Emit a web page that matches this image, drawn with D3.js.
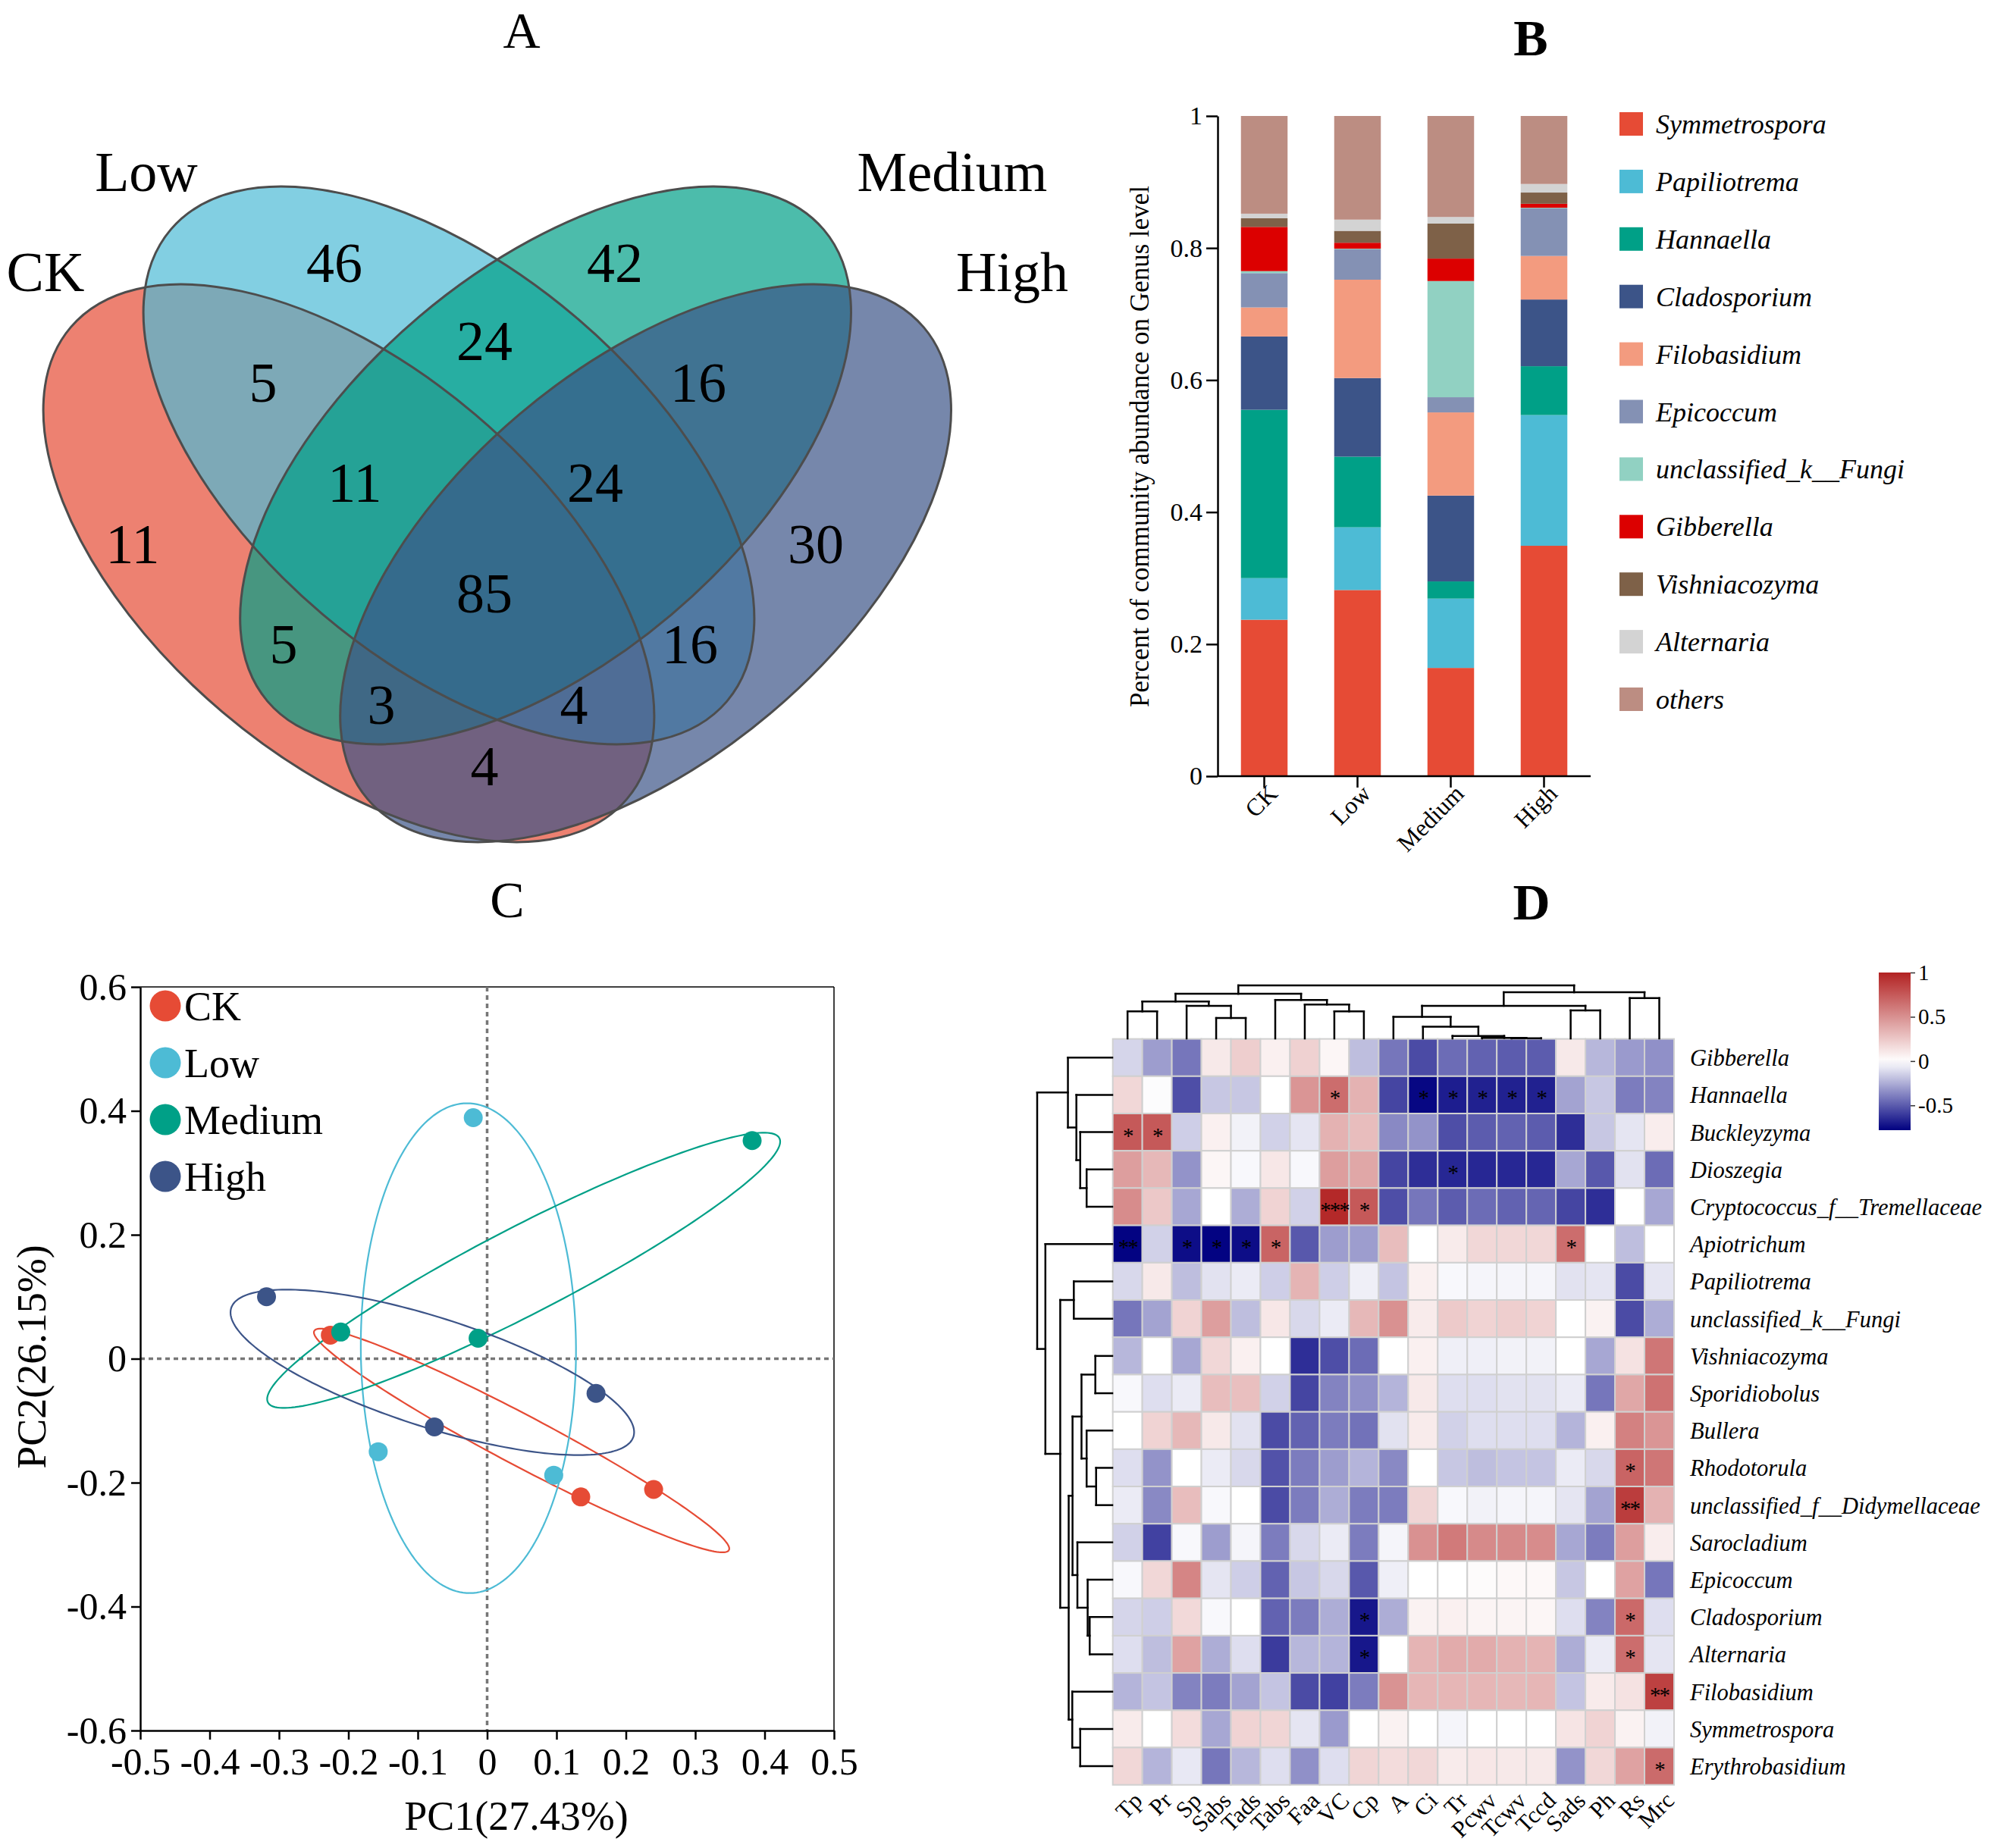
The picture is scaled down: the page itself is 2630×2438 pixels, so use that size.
<!DOCTYPE html>
<html>
<head>
<meta charset="utf-8">
<script src="https://cdnjs.cloudflare.com/ajax/libs/d3/7.8.5/d3.min.js"></script>
<style>
  body { margin: 0; background: #fff; }
  svg { display: block; }
  text { font-family: "Liberation Serif", "Times New Roman", serif; fill: #000; }
</style>
</head>
<body>
<svg id="fig" width="2630" height="2438"></svg>
<script>
// ---------------- data ----------------
var groups = ["CK", "Low", "Medium", "High"];
var groupColors = ["#E64B35", "#4DBBD5", "#00A087", "#3C5488"];

// A: Venn region counts
var vennRegions = ["CK", "Low", "Medium", "High", "CK&Low", "Low&Medium", "Medium&High",
  "CK&Low&Medium", "Low&Medium&High", "all", "CK&Medium", "Low&High",
  "CK&Medium&High", "CK&Low&High", "CK&High"];
var vennCounts = [11, 46, 42, 30, 5, 24, 16, 11, 24, 85, 5, 16, 3, 4, 4];

// B: genus composition (stacked, bottom to top)
var genera = ["Symmetrospora", "Papiliotrema", "Hannaella", "Cladosporium", "Filobasidium",
  "Epicoccum", "unclassified_k__Fungi", "Gibberella", "Vishniacozyma", "Alternaria", "others"];
var genusColors = ["#E64B35", "#4DBBD5", "#00A087", "#3C5488", "#F39B7F",
  "#8491B4", "#91D1C2", "#DC0000", "#7E6148", "#D3D3D3", "#BC8D82"];
var abundCK     = [0.237, 0.063, 0.255, 0.111, 0.044, 0.052, 0.003, 0.067, 0.013, 0.007, 0.148];
var abundLow    = [0.282, 0.095, 0.107, 0.119, 0.149, 0.046, 0.001, 0.009, 0.018, 0.017, 0.157];
var abundMedium = [0.164, 0.105, 0.026, 0.130, 0.126, 0.023, 0.176, 0.034, 0.053, 0.010, 0.153];
var abundHigh   = [0.349, 0.198, 0.074, 0.101, 0.066, 0.072, 0.001, 0.006, 0.017, 0.013, 0.103];
var barTicks = [0, 0.2, 0.4, 0.6, 0.8, 1];

// C: PCA sample scores
var pcaGroup = ["CK", "CK", "CK", "Low", "Low", "Low", "Medium", "Medium", "Medium", "High", "High", "High"];
var pcaX = [-0.226, 0.135, 0.240, -0.020, -0.157, 0.096, 0.382, -0.211, -0.013, -0.318, 0.157, -0.076];
var pcaY = [0.038, -0.223, -0.211, 0.389, -0.150, -0.188, 0.352, 0.043, 0.033, 0.100, -0.056, -0.110];
var pcaXTicks = [-0.5, -0.4, -0.3, -0.2, -0.1, 0, 0.1, 0.2, 0.3, 0.4, 0.5];
var pcaYTicks = [-0.6, -0.4, -0.2, 0, 0.2, 0.4, 0.6];

// D: correlation heatmap
var heatRows = ["Gibberella", "Hannaella", "Buckleyzyma", "Dioszegia", "Cryptococcus_f__Tremellaceae",
  "Apiotrichum", "Papiliotrema", "unclassified_k__Fungi", "Vishniacozyma", "Sporidiobolus", "Bullera",
  "Rhodotorula", "unclassified_f__Didymellaceae", "Sarocladium", "Epicoccum", "Cladosporium",
  "Alternaria", "Filobasidium", "Symmetrospora", "Erythrobasidium"];
var heatCols = ["Tp", "Pr", "Sp", "Sabs", "Tads", "Tabs", "Faa", "VC", "Cp", "A", "Ci", "Tr",
  "Pcwv", "Tcwv", "Tccd", "Sads", "Ph", "Rs", "Mrc"];
var heatValues = [
  [-0.13,-0.30,-0.42, 0.10, 0.22, 0.07, 0.21, 0.04,-0.20,-0.42,-0.55,-0.45,-0.48,-0.50,-0.50, 0.10,-0.22,-0.31,-0.34],
  [ 0.18,-0.01,-0.54,-0.17,-0.17, 0.00, 0.48, 0.66, 0.35,-0.57,-0.76,-0.69,-0.68,-0.68,-0.68,-0.28,-0.17,-0.40,-0.38],
  [ 0.75, 0.75,-0.15, 0.07,-0.04,-0.14,-0.08, 0.35, 0.30,-0.36,-0.33,-0.54,-0.50,-0.48,-0.50,-0.64,-0.17,-0.08, 0.08],
  [ 0.44, 0.32,-0.33, 0.04,-0.02, 0.11,-0.02, 0.44, 0.40,-0.57,-0.64,-0.66,-0.66,-0.66,-0.66,-0.27,-0.51,-0.09,-0.45],
  [ 0.52, 0.25,-0.27, 0.00,-0.25, 0.20,-0.14, 0.97, 0.75,-0.54,-0.42,-0.50,-0.45,-0.48,-0.47,-0.57,-0.64, 0.00,-0.27],
  [-0.77,-0.14,-0.74,-0.77,-0.74, 0.70,-0.51,-0.30,-0.30, 0.30, 0.00, 0.09, 0.18, 0.18, 0.18, 0.66, 0.00,-0.20, 0.00],
  [-0.12, 0.10,-0.20,-0.09,-0.06,-0.15, 0.34,-0.15,-0.05,-0.18, 0.07,-0.02,-0.03,-0.03,-0.03,-0.09,-0.08,-0.55,-0.08],
  [-0.42,-0.28, 0.20, 0.44,-0.20, 0.11,-0.12,-0.06, 0.32, 0.50, 0.09, 0.24, 0.20, 0.22, 0.20, 0.00, 0.06,-0.55,-0.25],
  [-0.22, 0.00,-0.27, 0.18, 0.07, 0.00,-0.64,-0.54,-0.45, 0.00, 0.07,-0.05,-0.05,-0.04,-0.04, 0.00,-0.27, 0.13, 0.62],
  [-0.02,-0.10,-0.06, 0.30, 0.29,-0.14,-0.57,-0.38,-0.34,-0.23, 0.10,-0.10,-0.10,-0.09,-0.09,-0.06,-0.42, 0.40, 0.64],
  [ 0.00, 0.20, 0.32, 0.10,-0.09,-0.55,-0.48,-0.40,-0.43,-0.09, 0.09,-0.14,-0.10,-0.10,-0.10,-0.23, 0.07, 0.57, 0.48],
  [-0.10,-0.33, 0.00,-0.06,-0.12,-0.53,-0.40,-0.30,-0.23,-0.36, 0.00,-0.17,-0.20,-0.18,-0.18,-0.06,-0.12, 0.70, 0.62],
  [-0.06,-0.36, 0.30,-0.02, 0.00,-0.55,-0.40,-0.25,-0.40,-0.40, 0.19,-0.02,-0.04,-0.03,-0.03,-0.08,-0.28, 0.88, 0.35],
  [-0.14,-0.58,-0.02,-0.30,-0.03,-0.40,-0.12,-0.06,-0.40,-0.03, 0.50, 0.60, 0.53, 0.53, 0.52,-0.27,-0.40, 0.44, 0.08],
  [-0.02, 0.18, 0.55,-0.08,-0.15,-0.48,-0.17,-0.12,-0.51,-0.05, 0.00, 0.00, 0.02, 0.03, 0.03,-0.17, 0.00, 0.42,-0.42],
  [-0.13,-0.15, 0.17,-0.02, 0.00,-0.48,-0.40,-0.25,-0.71,-0.25, 0.06, 0.07, 0.05, 0.05, 0.04,-0.10,-0.38, 0.68,-0.10],
  [-0.10,-0.20, 0.42,-0.25,-0.10,-0.60,-0.22,-0.23,-0.71, 0.00, 0.34, 0.38, 0.38, 0.35, 0.34,-0.25,-0.06, 0.66,-0.08],
  [-0.23,-0.18,-0.38,-0.40,-0.28,-0.18,-0.55,-0.58,-0.40, 0.49, 0.33, 0.33, 0.33, 0.32, 0.33,-0.18, 0.09, 0.13, 0.86],
  [ 0.09, 0.00, 0.16,-0.27, 0.20, 0.19,-0.08,-0.31, 0.00, 0.06, 0.00,-0.03, 0.00, 0.00, 0.00, 0.12, 0.20, 0.06,-0.04],
  [ 0.18,-0.23,-0.07,-0.42,-0.22,-0.10,-0.34,-0.10, 0.19, 0.16, 0.18, 0.09, 0.11, 0.10, 0.10,-0.33, 0.18, 0.42, 0.67]
];
// significance marks: [row, column, mark]
var heatStars = [
  ["Hannaella", "VC", "*"], ["Hannaella", "Ci", "*"], ["Hannaella", "Tr", "*"], ["Hannaella", "Pcwv", "*"],
  ["Hannaella", "Tcwv", "*"], ["Hannaella", "Tccd", "*"],
  ["Buckleyzyma", "Tp", "*"], ["Buckleyzyma", "Pr", "*"],
  ["Dioszegia", "Tr", "*"],
  ["Cryptococcus_f__Tremellaceae", "VC", "***"], ["Cryptococcus_f__Tremellaceae", "Cp", "*"],
  ["Apiotrichum", "Tp", "**"], ["Apiotrichum", "Sp", "*"], ["Apiotrichum", "Sabs", "*"],
  ["Apiotrichum", "Tads", "*"], ["Apiotrichum", "Tabs", "*"], ["Apiotrichum", "Sads", "*"],
  ["Rhodotorula", "Rs", "*"], ["unclassified_f__Didymellaceae", "Rs", "**"],
  ["Cladosporium", "Cp", "*"], ["Cladosporium", "Rs", "*"],
  ["Alternaria", "Cp", "*"], ["Alternaria", "Rs", "*"],
  ["Filobasidium", "Mrc", "**"], ["Erythrobasidium", "Mrc", "*"]
];
var legendTicks = [1, 0.5, 0, -0.5];
// clustering trees (merge heights)
var colTree = {h: 208, c: [
  {h: 175, c: [
    {h: 145, c: [{h: 106, c: ["Tp", "Pr"]}, {h: 128, c: ["Sp", {h: 80, c: ["Sabs", "Tads"]}]}]},
    {h: 151, c: ["Tabs", {h: 133, c: ["Faa", {h: 106, c: ["VC", "Cp"]}]}]}]},
  {h: 181, c: [
    {h: 128, c: [
      {h: 85, c: ["A", {h: 46, c: ["Ci", {h: 10, c: ["Tr", {h: 2, c: ["Pcwv", {h: 1, c: ["Tcwv", "Tccd"]}]}]}]}]},
      {h: 110, c: ["Sads", "Ph"]}]},
    {h: 158, c: ["Rs", "Mrc"]}]}]};
var rowTree = {h: 293, c: [
  {h: 173, c: ["Gibberella", {h: 140, c: ["Hannaella", {h: 125, c: ["Buckleyzyma",
    {h: 100, c: ["Dioszegia", "Cryptococcus_f__Tremellaceae"]}]}]}]},
  {h: 261, c: ["Apiotrichum", {h: 203, c: [
    {h: 150, c: ["Papiliotrema", "unclassified_k__Fungi"]},
    {h: 170, c: [
      {h: 155, c: [
        {h: 120, c: [{h: 66, c: ["Vishniacozyma", "Sporidiobolus"]},
                     {h: 100, c: ["Bullera", {h: 63, c: ["Rhodotorula", "unclassified_f__Didymellaceae"]}]}]},
        {h: 136, c: ["Sarocladium", {h: 96, c: ["Epicoccum", {h: 88, c: ["Cladosporium", "Alternaria"]}]}]}]},
      {h: 156, c: ["Filobasidium", {h: 125, c: ["Symmetrospora", "Erythrobasidium"]}]}]}]}]}]};

// ---------------- drawing ----------------
var svg = d3.select("#fig");
svg.append("rect").attr("width", 2630).attr("height", 2438).attr("fill", "#fff");

function panelTitle(t, x, y, bold) {
  svg.append("text").attr("x", x).attr("y", y).attr("text-anchor", "middle")
    .style("font-size", "68px").style("font-weight", bold ? "bold" : "normal").text(t);
}

// ===== A: Venn =====
panelTitle("A", 688, 63, false);
var venn = svg.append("g");
// ellipse layout (pixels)
var vennShapes = [
  {cx: 460, cy: 743, ang: 40.3}, {cx: 592, cy: 614, ang: 40.3},
  {cx: 719.6, cy: 614, ang: -40.3}, {cx: 851.6, cy: 743, ang: -40.3}];
venn.selectAll("ellipse.fill").data(vennShapes).enter().append("ellipse")
  .attr("class", "fill")
  .attr("cx", d => d.cx).attr("cy", d => d.cy).attr("rx", 481).attr("ry", 257.5)
  .attr("transform", d => "rotate(" + d.ang + " " + d.cx + " " + d.cy + ")")
  .attr("fill", (d, i) => groupColors[i]).attr("fill-opacity", 0.7);
venn.selectAll("ellipse.line").data(vennShapes).enter().append("ellipse")
  .attr("class", "line")
  .attr("cx", d => d.cx).attr("cy", d => d.cy).attr("rx", 481).attr("ry", 257.5)
  .attr("transform", d => "rotate(" + d.ang + " " + d.cx + " " + d.cy + ")")
  .attr("fill", "none").attr("stroke", "#4d4d4d").attr("stroke-width", 3);
var vennLabelPos = [[60, 384], [193, 252], [1256, 252], [1335, 384]];
groups.forEach(function(g, i) {
  venn.append("text").attr("x", vennLabelPos[i][0]).attr("y", vennLabelPos[i][1])
    .attr("text-anchor", "middle").style("font-size", "74px").text(g);
});
var vennCountPos = {
  "CK": [175, 743], "Low": [441, 372], "Medium": [811, 372], "High": [1076, 743],
  "CK&Low": [347, 530], "Low&Medium": [639, 475], "Medium&High": [921, 530],
  "CK&Low&Medium": [468, 662], "Low&Medium&High": [785, 662], "all": [639, 808],
  "CK&Medium": [374, 875], "Low&High": [910, 875], "CK&Medium&High": [503, 955],
  "CK&Low&High": [757, 955], "CK&High": [639, 1036]};
vennRegions.forEach(function(r, i) {
  venn.append("text").attr("x", vennCountPos[r][0]).attr("y", vennCountPos[r][1])
    .attr("text-anchor", "middle").style("font-size", "74px").text(vennCounts[i]);
});

// ===== B: stacked bars =====
panelTitle("B", 2019, 73, true);
var abund = {CK: abundCK, Low: abundLow, Medium: abundMedium, High: abundHigh};
var barTable = groups.map(function(g) {
  var row = {group: g};
  genera.forEach(function(k, j) { row[k] = abund[g][j]; });
  return row;
});
var stackB = d3.stack().keys(genera)(barTable);
var xB = d3.scaleBand().domain(groups).range([1606, 2098]).paddingInner(0.5).paddingOuter(0.25);
var yB = d3.scaleLinear().domain([0, 1]).range([1024, 153]);
var colB = d3.scaleOrdinal().domain(genera).range(genusColors);
var gB = svg.append("g");
gB.selectAll("g.layer").data(stackB).enter().append("g")
  .attr("fill", d => colB(d.key))
  .selectAll("rect").data(d => d).enter().append("rect")
  .attr("x", d => xB(d.data.group)).attr("width", xB.bandwidth())
  .attr("y", d => yB(d[1])).attr("height", d => yB(d[0]) - yB(d[1]));

var yAxisB = gB.append("g").attr("transform", "translate(1606,0)")
  .call(d3.axisLeft(yB).tickValues(barTicks).tickSize(15).tickSizeOuter(0).tickFormat(d => String(d)));
yAxisB.selectAll("text").style("font-size", "34px").attr("x", -20);
var xAxisB = gB.append("g").attr("transform", "translate(0,1024)")
  .call(d3.axisBottom(xB).tickSize(15).tickSizeOuter(0));
xAxisB.selectAll("text").style("font-size", "32px")
  .attr("text-anchor", "end").attr("x", -4).attr("y", 20).attr("dy", "0.35em")
  .attr("transform", "rotate(-45)");
xAxisB.select(".domain").attr("d", "M1606,0H2098");
[yAxisB, xAxisB].forEach(function(a) {
  a.selectAll("line, path").attr("stroke", "#000").attr("stroke-width", 2.5);
  a.selectAll("text").attr("fill", "#000").style("font-family", '"Liberation Serif", serif');
});
gB.append("text").attr("transform", "translate(1515,589) rotate(-90)")
  .attr("text-anchor", "middle").style("font-size", "35px")
  .text("Percent of community abundance on Genus level");
var legB = gB.selectAll("g.leg").data(genera).enter().append("g")
  .attr("transform", (d, i) => "translate(2136," + (148 + i * 75.9) + ")");
legB.append("rect").attr("width", 31).attr("height", 31).attr("fill", d => colB(d));
legB.append("text").attr("x", 48).attr("y", 28).style("font-size", "36px")
  .style("font-style", "italic").text(d => d);

// ===== C: PCA =====
panelTitle("C", 669, 1210, false);
var xC = d3.scaleLinear().domain([-0.5, 0.5]).range([185, 1100]);
var yC = d3.scaleLinear().domain([-0.6, 0.6]).range([2283, 1302]);
var colC = d3.scaleOrdinal().domain(groups).range(groupColors);
var gC = svg.append("g");
gC.append("line").attr("x1", 185).attr("x2", 1100).attr("y1", 1302).attr("y2", 1302)
  .attr("stroke", "#000").attr("stroke-width", 1.5);
gC.append("line").attr("x1", 1100).attr("x2", 1100).attr("y1", 1302).attr("y2", 2283)
  .attr("stroke", "#000").attr("stroke-width", 1.5);
gC.append("line").attr("x1", xC(0)).attr("x2", xC(0)).attr("y1", 1302).attr("y2", 2283)
  .attr("stroke", "#777").attr("stroke-width", 3.5).attr("stroke-dasharray", "6,5");
gC.append("line").attr("x1", 185).attr("x2", 1100).attr("y1", yC(0)).attr("y2", yC(0))
  .attr("stroke", "#777").attr("stroke-width", 3.5).attr("stroke-dasharray", "6,5");

function fmtC(v) { return Math.abs(v) < 1e-9 ? "0" : v.toFixed(1); }
var xAxisC = gC.append("g").attr("transform", "translate(0,2283)")
  .call(d3.axisBottom(xC).tickValues(pcaXTicks).tickSize(12).tickSizeOuter(0).tickFormat(fmtC));
xAxisC.selectAll("text").style("font-size", "50px").attr("y", 22);
var yAxisC = gC.append("g").attr("transform", "translate(185,0)")
  .call(d3.axisLeft(yC).tickValues(pcaYTicks).tickSize(12).tickSizeOuter(0).tickFormat(fmtC));
yAxisC.selectAll("text").style("font-size", "50px").attr("x", -18);
[xAxisC, yAxisC].forEach(function(a) {
  a.selectAll("line, path").attr("stroke", "#000").attr("stroke-width", 2.5);
  a.selectAll("text").attr("fill", "#000").style("font-family", '"Liberation Serif", serif');
});
gC.append("text").attr("x", 681).attr("y", 2414).attr("text-anchor", "middle")
  .style("font-size", "54px").text("PC1(27.43%)");
gC.append("text").attr("transform", "translate(60,1790) rotate(-90)").attr("text-anchor", "middle")
  .style("font-size", "54px").text("PC2(26.15%)");

// group ellipses from sample covariance
var ellK = Math.sqrt(1.5);
var lineC = d3.line().x(d => xC(d[0])).y(d => yC(d[1]));
groups.forEach(function(g) {
  var idx = pcaGroup.map((v, i) => v === g ? i : -1).filter(i => i >= 0);
  var xs = idx.map(i => pcaX[i]), ys = idx.map(i => pcaY[i]);
  var mx = d3.mean(xs), my = d3.mean(ys), n = xs.length;
  var sxx = d3.sum(xs, v => (v - mx) * (v - mx)) / (n - 1);
  var syy = d3.sum(ys, v => (v - my) * (v - my)) / (n - 1);
  var sxy = d3.sum(idx, (i, j) => (xs[j] - mx) * (ys[j] - my)) / (n - 1);
  var tr = (sxx + syy) / 2, dd = Math.sqrt(((sxx - syy) / 2) ** 2 + sxy * sxy);
  var l1 = tr + dd, l2 = Math.max(tr - dd, 0);
  var th = 0.5 * Math.atan2(2 * sxy, sxx - syy);
  var pts = d3.range(0, 201).map(function(k) {
    var t = k / 200 * 2 * Math.PI;
    var a = ellK * Math.sqrt(l1) * Math.cos(t), b = ellK * Math.sqrt(l2) * Math.sin(t);
    return [mx + a * Math.cos(th) - b * Math.sin(th), my + a * Math.sin(th) + b * Math.cos(th)];
  });
  gC.append("path").attr("d", lineC(pts)).attr("fill", "none")
    .attr("stroke", colC(g)).attr("stroke-width", 2.2);
});
gC.selectAll("circle.pt").data(pcaX).enter().append("circle").attr("class", "pt")
  .attr("cx", d => xC(d)).attr("cy", (d, i) => yC(pcaY[i])).attr("r", 12.5)
  .attr("fill", (d, i) => colC(pcaGroup[i]));
var legC = gC.selectAll("g.leg").data(groups).enter().append("g")
  .attr("transform", (d, i) => "translate(218," + (1327 + i * 75) + ")");
legC.append("circle").attr("r", 20.5).attr("fill", d => colC(d));
legC.append("text").attr("x", 25).attr("y", 19).style("font-size", "54px").text(d => d);

// ===== D: heatmap =====
panelTitle("D", 2020, 1213, true);
var xD = d3.scaleBand().domain(heatCols).range([1467.7, 2208]);
var yD = d3.scaleBand().domain(heatRows).range([1370.6, 2354.7]);
var colD = d3.scaleLinear().domain([-0.78, 0, 1]).range(["#000080", "#ffffff", "#B22222"]);
var gD = svg.append("g");
var cells = [];
heatRows.forEach(function(r, i) {
  heatCols.forEach(function(c, j) { cells.push({r: r, c: c, v: heatValues[i][j]}); });
});
gD.selectAll("rect.cell").data(cells).enter().append("rect").attr("class", "cell")
  .attr("x", d => xD(d.c)).attr("y", d => yD(d.r))
  .attr("width", xD.bandwidth()).attr("height", yD.bandwidth())
  .attr("fill", d => colD(d.v)).attr("stroke", "#d0d0d0").attr("stroke-width", 2);
gD.selectAll("text.star").data(heatStars).enter().append("text").attr("class", "star")
  .attr("x", d => xD(d[1]) + xD.bandwidth() / 2)
  .attr("y", d => yD(d[0]) + yD.bandwidth() / 2 + 14)
  .attr("text-anchor", "middle").style("font-size", "29px").style("letter-spacing", "-2px")
  .text(d => d[2]);
gD.selectAll("text.rowlab").data(heatRows).enter().append("text").attr("class", "rowlab")
  .attr("x", 2229).attr("y", d => yD(d) + yD.bandwidth() / 2 + 11)
  .style("font-size", "30.5px").style("font-style", "italic").text(d => d);
gD.selectAll("text.collab").data(heatCols).enter().append("text").attr("class", "collab")
  .attr("transform", d => "translate(" + (xD(d) + xD.bandwidth() / 2 + 6) + ",2362) rotate(-45)")
  .attr("text-anchor", "end").attr("dy", "0.7em").style("font-size", "31px").text(d => d);

// dendrograms
function layoutTree(node, leafPos) {
  if (typeof node === "string") return {pos: leafPos(node), h: 0};
  var a = layoutTree(node.c[0], leafPos), b = layoutTree(node.c[1], leafPos);
  return {pos: (a.pos + b.pos) / 2, h: node.h, kids: [a, b]};
}
function treeSegs(n, out) {
  if (!n.kids) return out;
  out.push([n.kids[0].pos, n.h, n.kids[1].pos, n.h]);
  n.kids.forEach(function(k) { out.push([k.pos, k.h, k.pos, n.h]); treeSegs(k, out); });
  return out;
}
var hCol = d3.scaleLinear().domain([0, 208]).range([1370, 1300]);
var colSegs = treeSegs(layoutTree(colTree, c => xD(c) + xD.bandwidth() / 2), []);
gD.selectAll("line.ctree").data(colSegs).enter().append("line")
  .attr("x1", d => d[0]).attr("y1", d => hCol(d[1])).attr("x2", d => d[2]).attr("y2", d => hCol(d[3]))
  .attr("stroke", "#000").attr("stroke-width", 2.5).attr("stroke-linecap", "square");
var hRow = d3.scaleLinear().domain([0, 293]).range([1467, 1368]);
var rowSegs = treeSegs(layoutTree(rowTree, r => yD(r) + yD.bandwidth() / 2), []);
gD.selectAll("line.rtree").data(rowSegs).enter().append("line")
  .attr("y1", d => d[0]).attr("x1", d => hRow(d[1])).attr("y2", d => d[2]).attr("x2", d => hRow(d[3]))
  .attr("stroke", "#000").attr("stroke-width", 2.5).attr("stroke-linecap", "square");

// colour key
var keyY = d3.scaleLinear().domain([-0.78, 1]).range([1491, 1283]);
var grad = svg.append("defs").append("linearGradient").attr("id", "keygrad")
  .attr("x1", 0).attr("y1", 1).attr("x2", 0).attr("y2", 0);
d3.range(0, 21).forEach(function(k) {
  var v = -0.78 + k / 20 * 1.78;
  grad.append("stop").attr("offset", (k / 20 * 100) + "%").attr("stop-color", colD(v));
});
gD.append("rect").attr("x", 2478).attr("y", 1283).attr("width", 42).attr("height", 208)
  .attr("fill", "url(#keygrad)");
var keyAxis = gD.append("g").attr("transform", "translate(2520,0)")
  .call(d3.axisRight(keyY).tickValues(legendTicks).tickSize(6).tickSizeOuter(0).tickFormat(d => String(d)));
keyAxis.select(".domain").remove();
keyAxis.selectAll("line").attr("stroke", "#333").attr("stroke-width", 1.5);
keyAxis.selectAll("text").attr("fill", "#000").attr("x", 10).style("font-size", "29px")
  .style("font-family", '"Liberation Serif", serif');
</script>
</body>
</html>
